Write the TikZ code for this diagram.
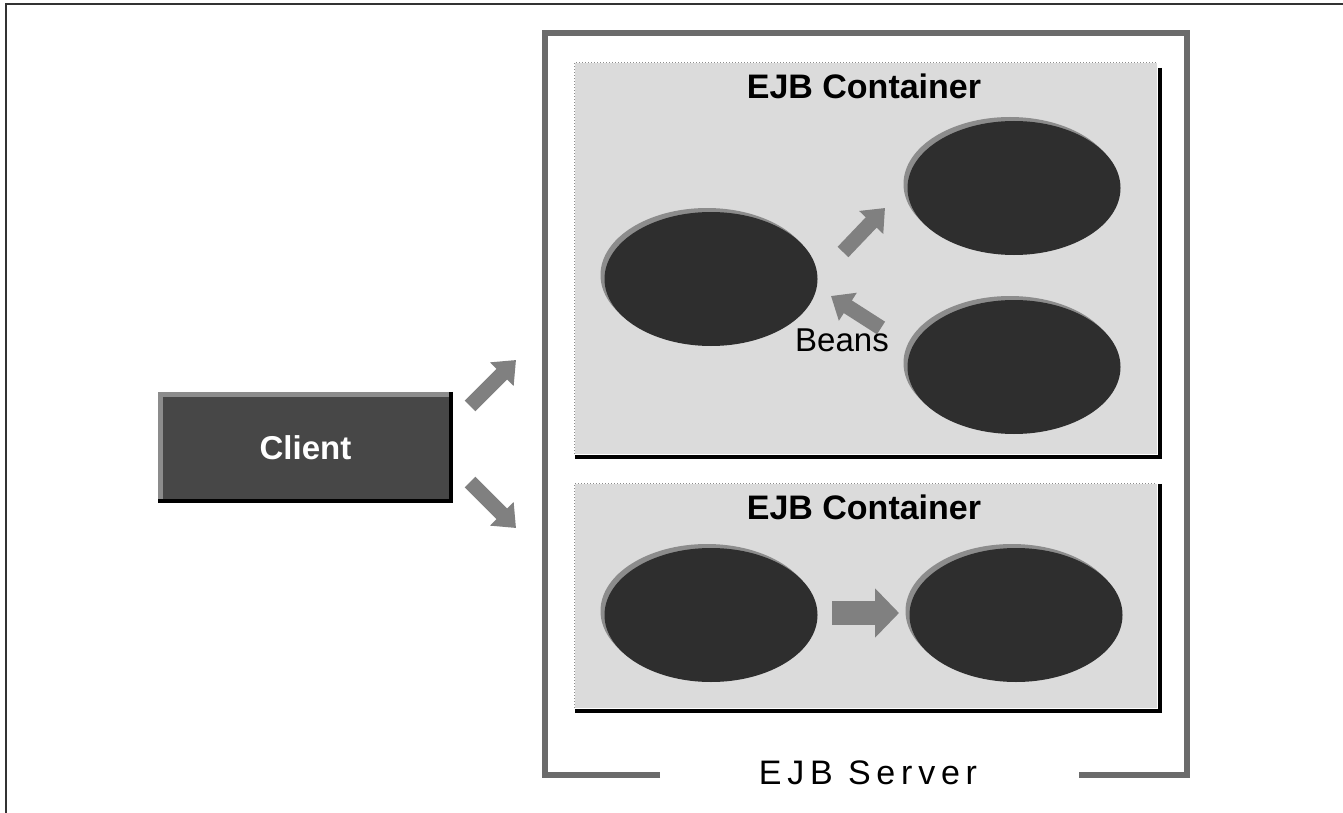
\documentclass[tikz,border=0pt]{standalone}
\usepackage{fontspec}
\setmainfont{Liberation Sans}
\newfontfamily\serverfont[LetterSpace=17]{Liberation Sans}
\usetikzlibrary{arrows.meta,shapes.geometric}
\tikzset{
  pageline/.style={draw=black!80, line width=2pt},
  serverframe/.style={draw=black!58, line width=6pt},
  container/.style={draw=none, fill=black!14, inner sep=0pt},
  contedge/.style={draw=black!45, line width=1pt, dotted},
  contshadow/.style={draw=black, line width=4pt},
  bean/.style={ellipse, draw=none, fill=black!82, inner sep=0pt, minimum width=213pt, minimum height=134pt},
  beanrim/.style={ellipse, draw=none, fill=black!45, inner sep=0pt, minimum width=213pt, minimum height=134pt},
  blockarr/.style={line width=15pt, draw=black!50, -{Triangle[length=20pt,width=32pt]}},
  bigarr/.style={line width=24pt, draw=black!50, -{Triangle[length=24pt,width=48pt]}},
  titletext/.style={font=\fontsize{34}{36}\selectfont\bfseries, text=black, inner sep=0pt},
  clientbox/.style={fill=black!72, draw=none, inner sep=0pt, minimum width=295pt, minimum height=111pt},
}
\begin{document}
\begin{tikzpicture}[x=1pt,y=-1pt]
\useasboundingbox (0,0) rectangle (1343,813);
% page frame
\coordinate (pgA) at (6,813);
\coordinate (pgB) at (6,4);
\coordinate (pgC) at (1343,4);
\draw[pageline] (pgA) -- (pgB) -- (pgC);

% server frame
\node[font=\fontsize{34}{36}\serverfont, inner sep=0pt] (srvlbl) at (868,773) {EJB Server};
\coordinate (sf1) at (660,775);
\coordinate (sf2) at (545,775);
\coordinate (sf3) at (545,33);
\coordinate (sf4) at (1187,33);
\coordinate (sf5) at (1187,775);
\coordinate (sf6) at (1079,775);
\draw[serverframe] (sf1) -- (sf2) -- (sf3) -- (sf4) -- (sf5) -- (sf6);

% top container
\node[container, minimum width=582pt, minimum height=391pt] (c1) at (866,258.5) {};
\draw[contedge] (c1.south west) -- (c1.north west) -- (c1.north east);
\draw[contshadow] ([shift={(3,5)}]c1.north east) -- ([shift={(3,3)}]c1.south east) -- ([shift={(0,3)}]c1.south west);
\node[titletext] (t1) at (864,86) {EJB Container};

% bottom container
\node[container, minimum width=582pt, minimum height=224pt] (c2) at (866,596) {};
\draw[contedge] (c2.south west) -- (c2.north west) -- (c2.north east);
\draw[contshadow] ([shift={(3,0)}]c2.north east) -- ([shift={(3,3)}]c2.south east) -- ([shift={(0,3)}]c2.south west);
\node[titletext] (t2) at (864,507) {EJB Container};

% beans, top container
\node[beanrim] (b1r) at (707,275) {};
\node[bean] (b1) at (711,279) {};
\node[beanrim] (b2r) at (1010,184) {};
\node[bean] (b2) at (1014,188) {};
\node[beanrim] (b3r) at (1010,363) {};
\node[bean] (b3) at (1014,367) {};
% beans, bottom container
\node[beanrim] (b4r) at (707,611) {};
\node[bean] (b4) at (711,615) {};
\node[beanrim] (b5r) at (1012,611) {};
\node[bean] (b5) at (1016,615) {};

% arrows inside containers
\coordinate (a1s) at (843,252);
\coordinate (a1e) at (885,208);
\draw[blockarr] (a1s) -- (a1e);
\coordinate (a2s) at (881,328);
\coordinate (a2e) at (831,296);
\draw[blockarr] (a2s) -- (a2e);
\coordinate (a3s) at (832,613);
\coordinate (a3e) at (899,613);
\draw[bigarr] (a3s) -- (a3e);

\node[font=\fontsize{33}{36}\selectfont, inner sep=0pt] (beans) at (842,340) {Beans};

% client
\node[clientbox] (client) at (305.5,447.5) {};
\draw[draw=black!45, line width=5pt] ([shift={(2.5,0)}]client.south west) -- ([shift={(2.5,2.5)}]client.north west) -- ([shift={(0,2.5)}]client.north east);
\draw[draw=black, line width=4pt] ([shift={(-2,0)}]client.north east) -- ([shift={(-2,-2)}]client.south east) -- ([shift={(0,-2)}]client.south west);
\node[font=\fontsize{33}{36}\selectfont\bfseries, text=white, inner sep=0pt] (clientlbl) at (client.center) {Client};

\coordinate (ca1s) at (470,406);
\coordinate (ca1e) at (516,360);
\draw[blockarr] (ca1s) -- (ca1e);
\coordinate (ca2s) at (470,482);
\coordinate (ca2e) at (516,528);
\draw[blockarr] (ca2s) -- (ca2e);
\end{tikzpicture}
\end{document}
